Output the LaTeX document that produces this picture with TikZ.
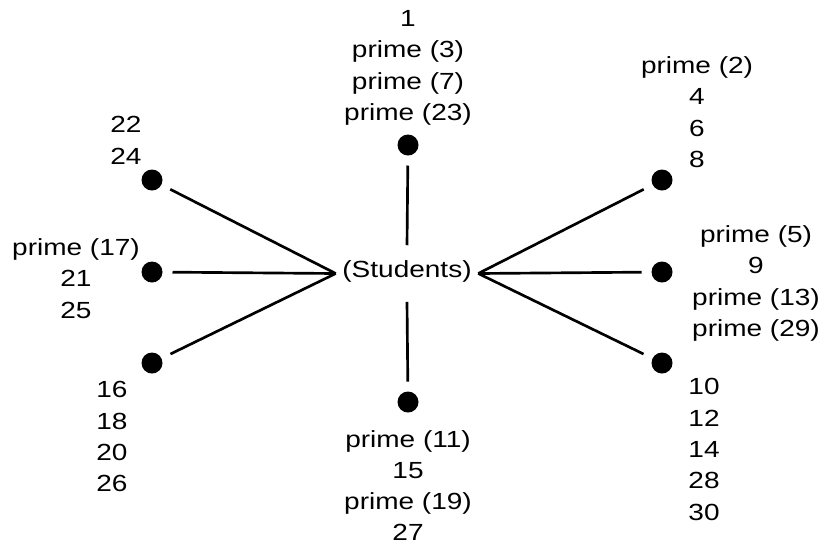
\documentclass[tikz,border=0pt]{standalone}
\usepackage{fontspec}
\setmainfont[FakeStretch=1.2]{Liberation Sans}
\begin{document}
\begin{tikzpicture}[x=0.75pt,y=-0.75pt,
  every node/.style={font=\fontsize{17.5}{23.6}\selectfont},
  dot/.style={circle,fill=black,inner sep=0pt,minimum size=15.75pt,outer sep=7.5pt},
  lab/.style={anchor=north,align=center,inner sep=0pt},
  conn/.style={line width=2pt}]
\useasboundingbox (0,0) rectangle (838,544);
\node[inner sep=0pt,minimum width=106.5pt,minimum height=42pt,text height=12.5pt,text depth=6pt] (c) at (407,273.5) {(Students)};
\node[dot] (t) at (408,145) {};
\node[dot] (b) at (408,402) {};
\node[dot] (l1) at (152,180) {};
\node[dot] (l2) at (152,272) {};
\node[dot] (l3) at (152,363) {};
\node[dot] (r1) at (662,180) {};
\node[dot] (r2) at (662,272) {};
\node[dot] (r3) at (662,363) {};
\draw[conn] (t) -- (c.north);
\draw[conn] (b) -- (c.south);
\draw[conn] (l1) -- (c.west);
\draw[conn] (l2) -- (c.west);
\draw[conn] (l3) -- (c.west);
\draw[conn] (r1) -- (c.east);
\draw[conn] (r2) -- (c.east);
\draw[conn] (r3) -- (c.east);
\node[lab] (lt) at (408,10) {1\\prime (3)\\prime (7)\\prime (23)};
\node[lab] (lr1) at (697,56) {prime (2)\\4\\6\\8};
\node[lab] (lr2) at (756,225) {prime (5)\\9\\prime (13)\\prime (29)};
\node[lab] (lr3) at (704,378) {10\\12\\14\\28\\30};
\node[lab] (ll1) at (126,116) {22\\24};
\node[lab] (ll2) at (76,238) {prime (17)\\21\\25};
\node[lab] (ll3) at (112,381) {16\\18\\20\\26};
\node[lab,font=\fontsize{17.5}{23.3}\selectfont] (lb) at (408,430) {prime (11)\\15\\prime (19)\\27};
\end{tikzpicture}
\end{document}
